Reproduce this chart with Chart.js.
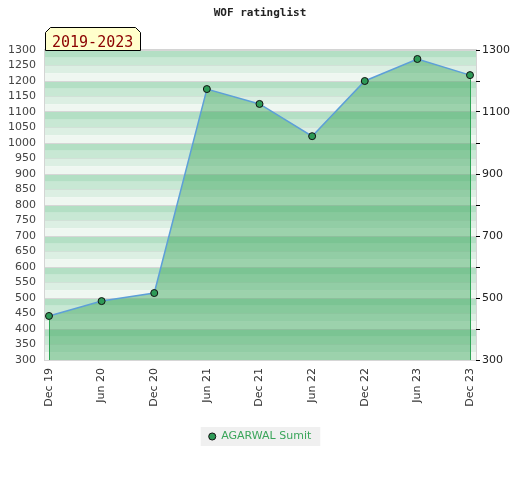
<!DOCTYPE html>
<html>
<head>
<meta charset="utf-8">
<title>WOF ratinglist</title>
<script src="https://cdn.jsdelivr.net/npm/chart.js@4.4.1/dist/chart.umd.min.js"></script>
<style>
    html, body { margin: 0; padding: 0; background: #fff; }
</style>
</head>
<body>
<canvas id="ratingChart" width="520" height="480"></canvas>
<script>
const periods = ['Dec 19', 'Jun 20', 'Dec 20', 'Jun 21', 'Dec 21', 'Jun 22', 'Dec 22', 'Jun 23', 'Dec 23'];
const ratings = [442, 490, 516, 1174, 1126, 1022, 1200, 1271, 1219];
const playerName = 'AGARWAL Sumit';
const rangeLabel = '2019-2023';
const ratingMin = 300;
const ratingMax = 1300;
const leftStep = 50;
const rightStep = 100;
const rightLabels = [300, 500, 700, 900, 1100, 1300];

const bandColors = ['#b3dfc4', '#c8e8d4', '#dcefe3', '#eff7f1'];

// striped background, 4 bands per 100 points
const bandsPlugin = {
    id: 'bands',
    beforeDraw(chart) {
        const { ctx, chartArea } = chart;
        const y = chart.scales.y;
        ctx.save();
        let k = 0;
        for (let v = ratingMax; v > ratingMin; v -= 25) {
            const top = y.getPixelForValue(v);
            const bottom = y.getPixelForValue(v - 25);
            ctx.fillStyle = bandColors[k % 4];
            ctx.fillRect(chartArea.left, top, chartArea.right - chartArea.left, bottom - top);
            k++;
        }
        ctx.strokeStyle = '#d4d4d4';
        ctx.lineWidth = 1;
        ctx.strokeRect(chartArea.left - 0.5, chartArea.top - 0.5,
            chartArea.right - chartArea.left + 1, chartArea.bottom - chartArea.top + 1);

        // legend background
        const legend = chart.legend;
        if (legend && legend.legendHitBoxes.length) {
            const hb = legend.legendHitBoxes[0];
            const cy = hb.top + hb.height / 2;
            ctx.fillStyle = '#f0f0f0';
            ctx.fillRect(hb.left - 8, cy - 9.5, hb.width + 17, 19);
        }
        ctx.restore();
    },
    afterDatasetsDraw(chart) {
        const { ctx, chartArea } = chart;
        const pts = chart.getDatasetMeta(0).data;
        if (!pts.length) return;
        ctx.save();
        ctx.strokeStyle = '#30a456';
        ctx.lineWidth = 1;
        [pts[0], pts[pts.length - 1]].forEach(p => {
            const x = Math.round(p.x) + 0.5;
            ctx.beginPath();
            ctx.moveTo(x, p.y + 4);
            ctx.lineTo(x, chartArea.bottom);
            ctx.stroke();
        });
        ctx.restore();
    },
    afterDraw(chart) {
        // period tag above the plot
        const { ctx, chartArea } = chart;
        const x0 = chartArea.left + 0.5, x1 = x0 + 95;
        const y0 = chartArea.top - 23 + 0.5, y1 = chartArea.top + 0.5;
        ctx.save();
        ctx.beginPath();
        ctx.moveTo(x0, y1);
        ctx.lineTo(x0, y0 + 5);
        ctx.lineTo(x0 + 5, y0);
        ctx.lineTo(x1 - 5, y0);
        ctx.lineTo(x1, y0 + 5);
        ctx.lineTo(x1, y1);
        ctx.closePath();
        ctx.fillStyle = '#ffffcc';
        ctx.fill();
        ctx.strokeStyle = '#000';
        ctx.lineWidth = 1;
        ctx.stroke();
        ctx.fillStyle = '#8b0000';
        ctx.font = '15px "DejaVu Sans Mono"';
        ctx.textBaseline = 'alphabetic';
        ctx.fillText(rangeLabel, x0 + 6.5, y0 + 19);
        ctx.restore();
    }
};

const ctx = document.getElementById('ratingChart').getContext('2d');
new Chart(ctx, {
    type: 'line',
    data: {
        datasets: [{
            label: playerName,
            data: ratings.map((r, i) => ({ x: i, y: r })),
            borderColor: '#5d9fd8',
            borderWidth: 1.5,
            backgroundColor: 'rgba(56, 163, 89, 0.45)',
            fill: 'start',
            tension: 0,
            pointRadius: 3.5,
            pointBackgroundColor: '#2e9a57',
            pointBorderColor: '#111',
            pointBorderWidth: 1,
        }]
    },
    options: {
        responsive: false,
        animation: false,
        layout: { padding: { top: 0, bottom: 28, left: 0, right: 0 } },
        plugins: {
            title: {
                display: true,
                text: 'WOF ratinglist',
                color: '#222',
                font: { family: '"DejaVu Sans Mono"', size: 11, weight: 'bold' },
                padding: { top: 6.5, bottom: 30.3 }
            },
            legend: {
                position: 'bottom',
                labels: {
                    usePointStyle: true,
                    boxHeight: 5,
                    boxWidth: 7,
                    padding: 8,
                    color: '#3aa55a',
                    font: { family: '"DejaVu Sans"', size: 11 }
                }
            },
            tooltip: { enabled: false }
        },
        scales: {
            x: {
                type: 'linear',
                min: -0.076,
                max: 8.114,
                grid: { display: false, drawTicks: false },
                border: { display: false },
                afterBuildTicks: scale => {
                    scale.ticks = periods.map((_, i) => ({ value: i }));
                },
                afterFit: scale => { scale.height = 63; },
                ticks: {
                    autoSkip: false,
                    minRotation: 90,
                    maxRotation: 90,
                    padding: 8,
                    color: '#333',
                    font: { family: '"DejaVu Sans"', size: 11 },
                    callback: value => periods[value]
                }
            },
            y: {
                position: 'left',
                min: ratingMin,
                max: ratingMax,
                border: { display: false },
                grid: {
                    drawTicks: false,
                    color: c => (c.tick && c.tick.value % 100 === 0) ? '#d6d6d6' : 'rgba(200,215,205,0.6)'
                },
                afterFit: scale => { scale.width = 45; },
                ticks: {
                    stepSize: leftStep,
                    autoSkip: false,
                    padding: 9,
                    color: '#444',
                    font: { family: '"DejaVu Sans"', size: 11 },
                    callback: value => String(value)
                }
            },
            y2: {
                position: 'right',
                min: ratingMin,
                max: ratingMax,
                border: { display: false },
                grid: { drawOnChartArea: false, tickLength: 4, tickColor: '#000' },
                afterFit: scale => { scale.width = 44; },
                ticks: {
                    stepSize: rightStep,
                    autoSkip: false,
                    padding: 2,
                    color: '#222',
                    font: { family: '"DejaVu Sans"', size: 11 },
                    callback: value => rightLabels.includes(value) ? String(value) : ''
                }
            }
        }
    },
    plugins: [bandsPlugin]
});
</script>
</body>
</html>
